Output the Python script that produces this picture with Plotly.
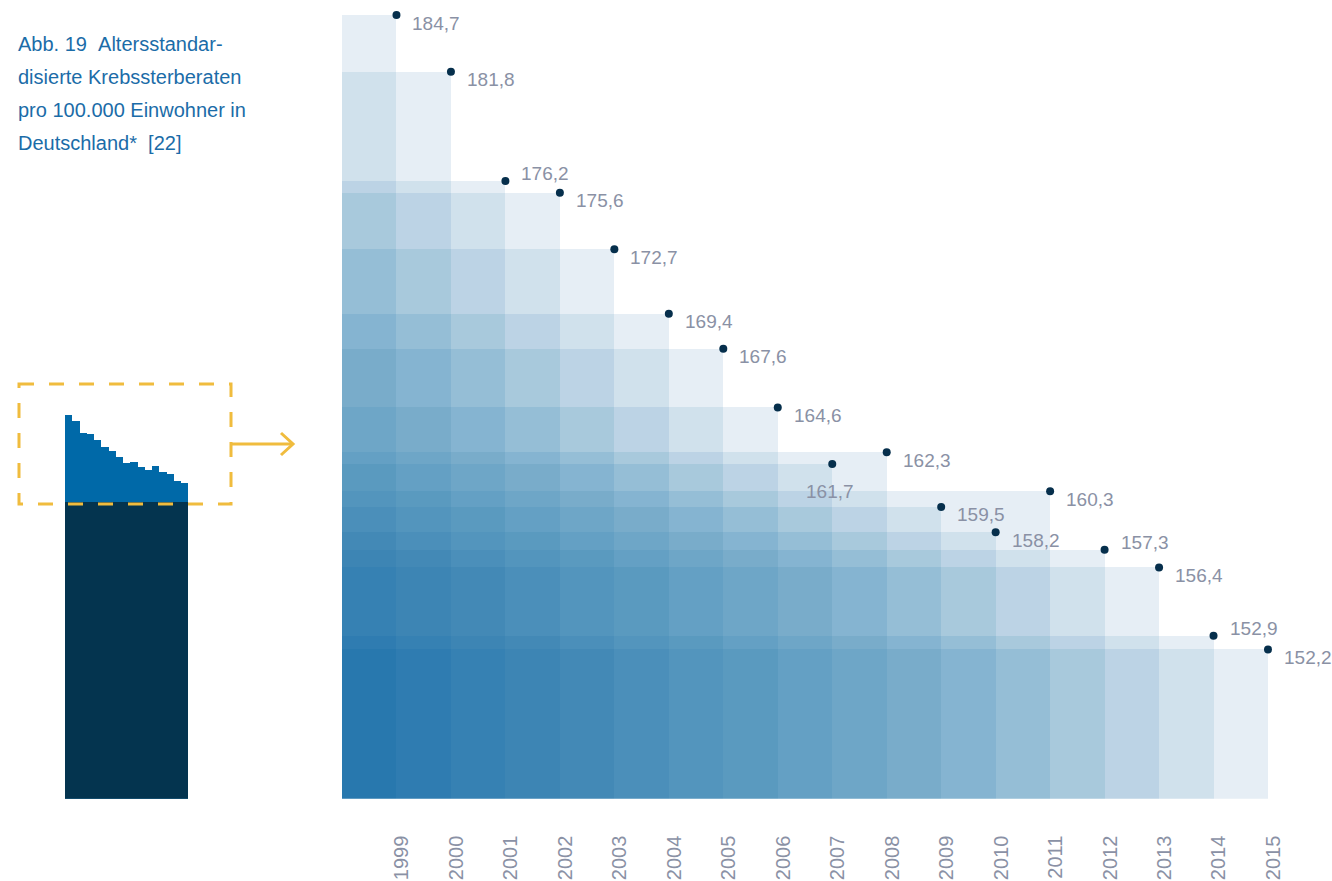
import plotly.graph_objects as go

# ---- data -----------------------------------------------------------------
years = [1999, 2000, 2001, 2002, 2003, 2004, 2005, 2006, 2007, 2008,
         2009, 2010, 2011, 2012, 2013, 2014, 2015]
rates = [184.7, 181.8, 176.2, 175.6, 172.7, 169.4, 167.6, 164.6, 161.7,
         162.3, 159.5, 158.2, 160.3, 157.3, 156.4, 152.9, 152.2]
title_lines = [
    "Abb. 19\u00a0\u00a0Altersstandar-",
    "disierte Krebssterberaten",
    "pro 100.000 Einwohner in",
    "Deutschland*\u00a0\u00a0[22]",
]

# ---- style ----------------------------------------------------------------
W, H = 1332, 881
FONT = "Liberation Sans, Arial, sans-serif"
TITLE_BLUE = "#1b6ca8"
LABEL_GREY = "#8a91a5"
DOT_NAVY = "#062f4c"
MINI_BLUE = "#0069a8"
MINI_NAVY = "#04344f"
YELLOW = "#f0bc3e"
# shade per number of overlapping years (1 layer ... 17 layers)
SHADES = ["#e6eef5", "#d0e1ec", "#bcd3e5", "#a8c9dc", "#95bed6", "#85b4d1",
          "#79acca", "#6ea6c7", "#64a0c4", "#5a9abf", "#5395bd", "#4b8fba",
          "#4389b6", "#3d85b4", "#3681b3", "#2f7cb1", "#2878ae"]
Y_MIN = 144.55          # lower bound of the main value axis
MINI_CUT = 142.7        # part of the overview bar shown in navy
LABEL_PLACEMENT = {2001: "above", 2007: "under", 2012: "above", 2014: "above"}


def px_x(p):
    return p / W


def px_y(p):
    return 1 - p / H


n = len(years)

# ---- main chart: stacked cells of overlapping year rectangles --------------
cell_x, cell_base, cell_h, cell_col = [], [], [], []
for j in range(n):
    tops = sorted(rates[j:], reverse=True)
    for m, top in enumerate(tops):
        base = tops[m + 1] if m + 1 < len(tops) else 0
        cell_x.append(j + 0.5)
        cell_base.append(base)
        cell_h.append(top - base)
        cell_col.append(SHADES[m])

fig = go.Figure()
fig.add_trace(go.Bar(
    x=cell_x, y=cell_h, base=cell_base, width=[1.0] * len(cell_x),
    marker=dict(color=cell_col, line=dict(width=0)),
    xaxis="x", yaxis="y", hoverinfo="skip", showlegend=False,
))
fig.add_trace(go.Scatter(
    x=[i + 1 for i in range(n)], y=rates, mode="markers",
    marker=dict(color=DOT_NAVY, size=8, line=dict(width=0)),
    cliponaxis=False, xaxis="x", yaxis="y", showlegend=False,
    hovertemplate="%{y}<extra></extra>",
))

annotations = []
for i, (yr, v) in enumerate(zip(years, rates)):
    txt = f"{v:.1f}".replace(".", ",")
    place = LABEL_PLACEMENT.get(yr, "below")
    if place == "under":
        xa, xs, ys = "center", -2, -28
    elif place == "above":
        xa, xs, ys = "left", 14, 7
    else:
        xa, xs, ys = "left", 14, -8
    annotations.append(dict(
        x=i + 1, y=v, xref="x", yref="y", text=txt, showarrow=False,
        xanchor=xa, yanchor="middle", xshift=xs, yshift=ys,
        font=dict(family=FONT, size=19, color=LABEL_GREY),
    ))

# ---- heading ---------------------------------------------------------------
for k, line in enumerate(title_lines):
    annotations.append(dict(
        x=px_x(16), y=px_y(44 + 33 * k), xref="paper", yref="paper",
        text=line, showarrow=False, xanchor="left", yanchor="middle",
        font=dict(family=FONT, size=20, color=TITLE_BLUE),
    ))

# ---- overview chart on the left -------------------------------------------
fig.add_trace(go.Bar(
    x=list(range(n)), y=rates, width=[1.0] * n,
    marker=dict(color=MINI_BLUE, line=dict(width=0)),
    xaxis="x2", yaxis="y2", hoverinfo="skip", showlegend=False,
))
fig.add_trace(go.Bar(
    x=list(range(n)), y=[MINI_CUT] * n, width=[1.0] * n,
    marker=dict(color=MINI_NAVY, line=dict(width=0)),
    xaxis="x2", yaxis="y2", hoverinfo="skip", showlegend=False,
))

# dashed frame and arrow pointing at the enlarged view
shapes = [
    dict(type="rect", xref="paper", yref="paper",
         x0=px_x(19), x1=px_x(231), y0=px_y(384), y1=px_y(504),
         line=dict(color=YELLOW, width=3, dash="15px,15px"),
         fillcolor="rgba(0,0,0,0)", layer="above"),
    dict(type="line", xref="paper", yref="paper",
         x0=px_x(231), x1=px_x(293), y0=px_y(444), y1=px_y(444),
         line=dict(color=YELLOW, width=3), layer="above"),
    dict(type="path", xref="paper", yref="paper",
         path=f"M {px_x(281)},{px_y(433)} L {px_x(293)},{px_y(444)} "
              f"L {px_x(281)},{px_y(455)}",
         line=dict(color=YELLOW, width=3), layer="above"),
]

y_top_px = 5
bottom_px = 798.7
scale = (649.3 - 15.0) / (184.7 - 152.2)
y_max = Y_MIN + (bottom_px - y_top_px) / scale
left_px, right_px = 342, 1268
col_px = (right_px - left_px) / n
x_pad = 0.3  # room on the right so the last year label stays inside range

fig.update_layout(
    width=W, height=H, autosize=False,
    margin=dict(l=0, r=0, t=0, b=0, pad=0, autoexpand=False),
    paper_bgcolor="white", plot_bgcolor="rgba(0,0,0,0)",
    barmode="overlay", bargap=0,
    showlegend=False,
    annotations=annotations, shapes=shapes,
    xaxis=dict(
        domain=[px_x(left_px), px_x(right_px + x_pad * col_px)],
        range=[0, n + x_pad], automargin=False,
        tickmode="array", tickvals=[i + 1.1 for i in range(n)],
        ticktext=[str(y) for y in years], tickangle=-90,
        tickfont=dict(family=FONT, size=20, color=LABEL_GREY),
        ticks="", ticklabelstandoff=32,
        showgrid=False, zeroline=False, showline=False, fixedrange=True,
    ),
    yaxis=dict(
        domain=[px_y(bottom_px), px_y(y_top_px)], range=[Y_MIN, y_max],
        automargin=False,
        visible=False, showgrid=False, zeroline=False, fixedrange=True,
    ),
    xaxis2=dict(
        domain=[px_x(65), px_x(188.3)], range=[-0.5, n - 0.5],
        automargin=False,
        visible=False, showgrid=False, zeroline=False, anchor="y2",
    ),
    yaxis2=dict(
        domain=[px_y(bottom_px), px_y(415)], range=[0, max(rates)],
        automargin=False,
        visible=False, showgrid=False, zeroline=False, anchor="x2",
    ),
)

fig.write_html("out.html", config={"displayModeBar": False, "responsive": False},
               default_width=f"{W}px", default_height=f"{H}px")
